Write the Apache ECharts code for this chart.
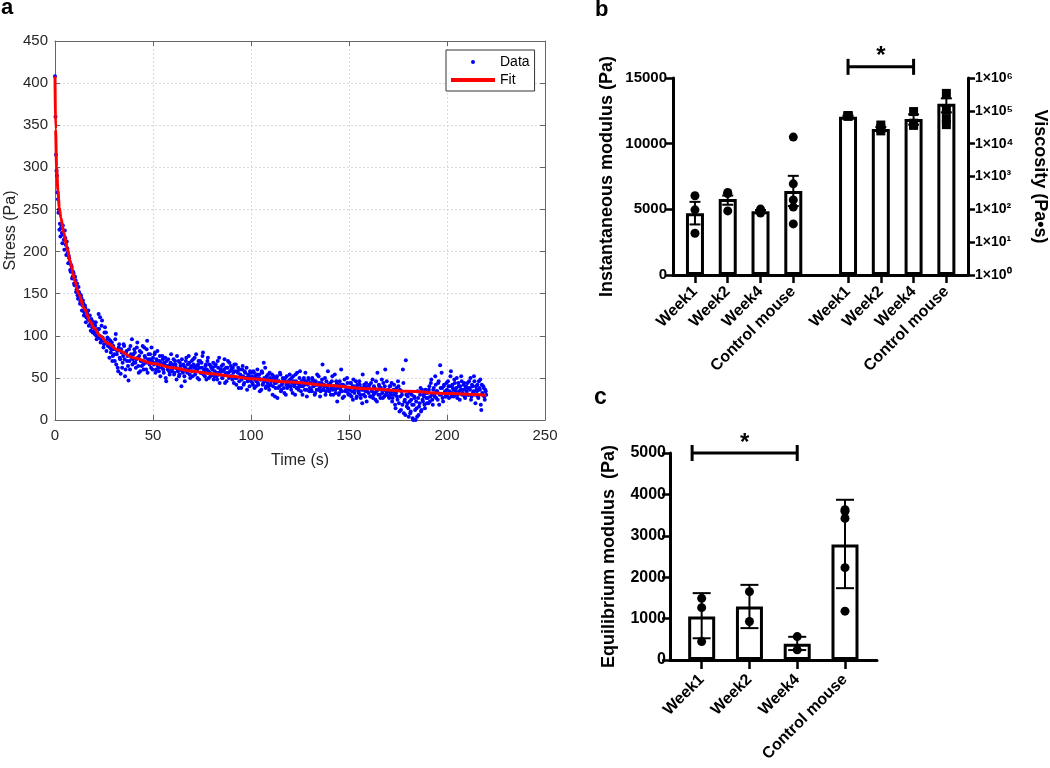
<!DOCTYPE html>
<html>
<head>
<meta charset="utf-8">
<script src="https://cdn.jsdelivr.net/npm/echarts@6/dist/echarts.min.js"></script>
<style>
  html, body { margin: 0; padding: 0; background: #fff; }
  #main { width: 1050px; height: 768px; }
</style>
</head>
<body>
<div id="main"></div>
<script>
// ---- panel a : stress relaxation ----
var sampleStep = 0.5; // s between samples
// samples at t = 0, 0.5, 1, ...
var stressData = [
  408, 315, 290, 262, 250, 233, 228, 222, 231, 214, 225, 208, 212, 199, 195, 188, 176, 182, 170, 174,
  160, 166, 155, 148, 158, 150, 141, 145, 136, 138, 128, 133, 122, 126, 130, 118, 114, 120, 110, 116,
  106, 112, 100, 104, 98, 108, 122, 96, 118, 94, 90, 110, 104, 92, 88, 96, 86, 80, 92, 76,
  84, 70, 102, 78, 62, 86, 74, 55, 80, 68, 90, 72, 60, 82, 76, 47, 70, 88, 74, 66,
  78, 84, 68, 72, 92, 64, 76, 58, 80, 70, 66, 86, 74, 60, 94, 72, 68, 78, 62, 70,
  74, 66, 80, 60, 70, 64, 58, 76, 68, 62, 72, 56, 66, 50, 70, 60, 64, 54, 68, 58,
  62, 72, 56, 66, 48, 60, 70, 54, 64, 40, 58, 66, 52, 62, 74, 56, 60, 68, 50, 64,
  58, 72, 62, 54, 78, 60, 66, 48, 70, 56, 62, 80, 58, 52, 66, 60, 74, 50, 56, 64,
  54, 62, 48, 58, 66, 52, 70, 56, 44, 60, 64, 50, 58, 72, 54, 46, 62, 56, 68, 52,
  60, 48, 56, 66, 50, 42, 58, 62, 46, 54, 38, 60, 52, 44, 56, 50, 36, 54, 48, 58,
  46, 52, 42, 56, 48, 40, 54, 44, 50, 34, 48, 58, 42, 68, 46, 38, 52, 44, 40, 56,
  42, 48, 30, 52, 44, 38, 50, 26, 46, 40, 54, 36, 44, 48, 32, 50, 42, 38, 46, 40,
  48, 36, 44, 52, 40, 30, 46, 56, 38, 42, 58, 34, 44, 40, 50, 36, 46, 28, 42, 48,
  38, 44, 34, 48, 40, 30, 46, 36, 42, 52, 38, 34, 44, 66, 36, 40, 30, 46, 38, 42,
  34, 44, 38, 52, 30, 40, 36, 46, 22, 42, 32, 38, 60, 34, 42, 28, 40, 36, 50, 32,
  38, 30, 44, 34, 24, 40, 36, 46, 28, 38, 32, 42, 26, 36, 54, 30, 40, 34, 22, 38,
  32, 42, 28, 36, 48, 30, 38, 24, 34, 56, 30, 40, 26, 36, 32, 44, 28, 60, 34, 30,
  36, 26, 40, 30, 22, 34, 42, 18, 32, 28, 46, 20, 36, 12, 30, 60, 8, 24, 71, 16,
  28, 4, 22, 10, 30, 2, 18, 26, 0, 14, 34, 6, 20, 38, 12, 24, 30, 18, 36, 26,
  32, 20, 40, 28, 48, 24, 36, 30, 52, 26, 34, 44, 18, 65, 30, 38, 22, 42, 34, 28,
  36, 46, 26, 40, 58, 32, 38, 28, 44, 34, 50, 30, 40, 24, 36, 46, 32, 42, 28, 38,
  34, 44, 30, 38, 50, 28, 40, 34, 46, 20, 36, 42, 26, 38, 48, 12, 32, 40, 28, 36,
  30
];
// samples at t = 0.25, 0.75, 1.25, ...
var stressDataB = [
  360, 296, 270, 246, 226, 218, 232, 210, 220, 202, 216, 196, 204, 186, 192, 178, 184, 168, 176, 162,
  170, 152, 162, 144, 152, 138, 148, 130, 142, 124, 136, 116, 128, 120, 112, 124, 106, 118, 104, 112,
  102, 116, 96, 108, 126, 100, 92, 112, 98, 86, 104, 94, 82, 98, 90, 74, 94, 84, 70, 88,
  78, 96, 66, 82, 58, 90, 72, 84, 62, 76, 88, 52, 80, 70, 64, 84, 60, 78, 96, 72,
  68, 80, 62, 86, 74, 56, 82, 70, 64, 88, 60, 76, 68, 84, 56, 78, 66, 72, 86, 60,
  68, 78, 56, 72, 82, 62, 70, 52, 66, 76, 60, 68, 74, 46, 64, 72, 58, 66, 78, 60,
  66, 54, 70, 62, 76, 58, 52, 68, 60, 72, 56, 64, 46, 70, 58, 66, 76, 54, 62, 70,
  52, 66, 74, 58, 64, 50, 70, 62, 56, 68, 76, 54, 60, 64, 48, 70, 58, 66, 52, 62,
  60, 68, 52, 64, 56, 48, 62, 74, 54, 58, 50, 66, 60, 44, 62, 56, 70, 50, 58, 64,
  52, 62, 44, 58, 66, 50, 56, 38, 60, 52, 48, 64, 42, 58, 50, 62, 46, 52, 40, 56,
  50, 44, 58, 38, 52, 46, 60, 42, 54, 48, 36, 56, 44, 50, 62, 40, 48, 54, 36, 50,
  46, 54, 40, 48, 28, 44, 52, 38, 46, 56, 34, 42, 50, 38, 46, 30, 52, 40, 44, 54,
  40, 50, 32, 46, 42, 54, 38, 44, 36, 50, 40, 46, 30, 48, 42, 56, 36, 44, 50, 34,
  44, 36, 50, 40, 46, 32, 42, 54, 36, 44, 28, 40, 48, 36, 42, 50, 34, 40, 58, 36,
  42, 30, 46, 36, 40, 54, 32, 44, 38, 30, 46, 36, 42, 26, 40, 48, 34, 38, 44, 30,
  36, 44, 28, 40, 48, 32, 38, 26, 42, 34, 46, 30, 38, 20, 36, 42, 28, 44, 34, 40,
  38, 28, 44, 34, 26, 40, 32, 46, 22, 36, 42, 30, 38, 48, 26, 36, 40, 30, 46, 34,
  28, 40, 32, 44, 26, 36, 30, 14, 38, 24, 40, 10, 28, 34, 18, 44, 22, 6, 30, 20,
  14, 32, 8, 24, 18, 0, 28, 12, 22, 4, 26, 16, 30, 10, 36, 22, 28, 14, 32, 20,
  26, 36, 22, 44, 30, 18, 38, 28, 42, 34, 24, 46, 30, 38, 56, 26, 40, 32, 28, 44,
  30, 40, 34, 52, 28, 42, 36, 48, 30, 38, 26, 44, 34, 40, 52, 30, 36, 44, 26, 40,
  38, 30, 46, 36, 24, 42, 32, 52, 30, 40, 34, 28, 46, 36, 18, 42, 30, 38, 24, 34
];
var fitTime = [0, 0.3, 0.8, 1.5, 2.2, 3, 4.5, 6, 8, 10, 12, 15, 18, 20, 23, 27, 32, 40, 50, 60, 70, 80, 90, 100, 120, 140, 160, 180, 200, 220];
var fitStress = [408, 345, 300, 272, 252, 240, 222, 206, 186, 166, 150, 132, 117, 109, 100, 91, 83, 74, 67, 62, 58, 55, 52, 49, 45, 41, 37, 34, 31.5, 29.5];

// ---- panel b : instantaneous modulus (left) and viscosity (right, log) ----
var groupNames = ['Week1', 'Week2', 'Week4', 'Control mouse'];
var bPosLeft = [0, 1, 2, 3];
var bPosRight = [4.67, 5.67, 6.67, 7.67];
var instMean = [4700, 5780, 4850, 6400];
var instErr = [[3850, 5570], [5350, 6050], [4750, 4950], [5250, 7550]];
var instPoints = [[6030, 4960, 3180], [6280, 6200, 4880], [5020, 4800, 4720], [10500, 6940, 5720, 5170, 3890]];
var viscMean = [6.6e4, 2.8e4, 5.6e4, 1.65e5];
var viscErr = [[6.4e4, 7.2e4], [2.5e4, 3.2e4], [3.8e4, 7.8e4], [9e4, 2.4e5]];
var viscPoints = [[7.2e4, 7.0e4, 6.8e4], [3.7e4, 2.9e4, 2.45e4], [9.5e4, 4.2e4, 3.6e4], [3.4e5, 1.07e5, 5.8e4, 3.8e4]];
var sigB = [4.67, 6.67, 15850];

// ---- panel c : equilibrium modulus ----
var cPos = [0, 1, 2, 3];
var eqMean = [1050, 1290, 390, 2790];
var eqErr = [[525, 1615], [770, 1815], [240, 560], [1735, 3870]];
var eqPoints = [[1490, 1265, 445], [1650, 930], [565, 245], [3630, 3590, 3420, 2230, 1180]];
var sigC = [-0.2, 2, 5000];

var FONT = "'Liberation Sans', Arial, Helvetica, sans-serif";
var supDigits = ['\u2070', '\u00b9', '\u00b2', '\u00b3', '\u2074', '\u2075', '\u2076'];

function labelAt(positions, labels) {
  return function (v) {
    for (var i = 0; i < positions.length; i++) {
      if (Math.abs(positions[i] - v) < 0.01) return labels[i];
    }
    return '';
  };
}
function plain(v) { return String(v); }
function pointsOf(positions, groups) {
  var out = [];
  groups.forEach(function (g, i) {
    g.forEach(function (v) { out.push([positions[i], v]); });
  });
  return out;
}
function errorData(positions, errs) {
  return errs.map(function (e, i) { return [positions[i], e[0], e[1]]; });
}
function errorBar(capHalf) {
  return function (params, api) {
    var x = api.value(0);
    var lo = api.coord([x, api.value(1)]);
    var hi = api.coord([x, api.value(2)]);
    var st = { stroke: '#000', lineWidth: 2 };
    return {
      type: 'group',
      children: [
        { type: 'line', shape: { x1: lo[0], y1: lo[1], x2: hi[0], y2: hi[1] }, style: st },
        { type: 'line', shape: { x1: hi[0] - capHalf, y1: hi[1], x2: hi[0] + capHalf, y2: hi[1] }, style: st },
        { type: 'line', shape: { x1: lo[0] - capHalf, y1: lo[1], x2: lo[0] + capHalf, y2: lo[1] }, style: st }
      ]
    };
  };
}
function bracket(params, api) {
  var a = api.coord([api.value(0), api.value(2)]);
  var b = api.coord([api.value(1), api.value(2)]);
  var st = { stroke: '#000', lineWidth: 3 };
  return {
    type: 'group',
    children: [
      { type: 'line', shape: { x1: a[0], y1: a[1], x2: b[0], y2: b[1] }, style: st },
      { type: 'line', shape: { x1: a[0], y1: a[1] - 8, x2: a[0], y2: a[1] + 8 }, style: st },
      { type: 'line', shape: { x1: b[0], y1: b[1] - 8, x2: b[0], y2: b[1] + 8 }, style: st },
      { type: 'text', x: (a[0] + b[0]) / 2, y: a[1] - 10,
        style: { text: '*', fill: '#000', fontSize: 24, fontWeight: 'bold', fontFamily: FONT, align: 'center', verticalAlign: 'middle' } }
    ]
  };
}

var stressPts = stressData.map(function (v, i) { return [i * sampleStep, v]; })
  .concat(stressDataB.map(function (v, i) { return [(i + 0.5) * sampleStep, v]; }));
var fitPts = fitTime.map(function (t, i) { return [t, fitStress[i]]; });
var bPositions = bPosLeft.concat(bPosRight);
var bLabels = groupNames.concat(groupNames);

var grayAxis = '#666';
var txtA = '#262626';
var blackLine = { color: '#000', width: 3 };

var myChart = echarts.init(document.getElementById('main'));
var option = {
  animation: false,
  backgroundColor: '#fff',
  title: [
    { text: 'a', left: 1, top: -3, padding: 0, textStyle: { fontSize: 22, fontWeight: 'bold', fontFamily: FONT, color: '#000' } },
    { text: 'b', left: 595, top: -1, padding: 0, textStyle: { fontSize: 22, fontWeight: 'bold', fontFamily: FONT, color: '#000' } },
    { text: 'c', left: 594, top: 386, padding: 0, textStyle: { fontSize: 23, fontWeight: 'bold', fontFamily: FONT, color: '#000' } }
  ],
  legend: {
    data: [{ name: 'Data', icon: 'circle' }, { name: 'Fit', icon: 'rect' }],
    orient: 'vertical',
    left: 446, top: 50,
    itemWidth: 44, itemHeight: 4, itemGap: 4,
    padding: [5, 5, 4, 5],
    borderColor: '#333', borderWidth: 1, backgroundColor: '#fff',
    selectedMode: false,
    textStyle: { fontSize: 14, color: '#000', fontFamily: FONT }
  },
  grid: [
    { left: 55, top: 41, width: 490, height: 379 },
    { left: 673, top: 78, width: 296, height: 197 },
    { left: 670, top: 453, width: 207, height: 207 }
  ],
  xAxis: [
    {
      gridIndex: 0, type: 'value', min: 0, max: 250, interval: 50, position: 'bottom',
      name: 'Time (s)', nameLocation: 'middle', nameGap: 33,
      nameTextStyle: { fontSize: 16, color: txtA, fontFamily: FONT },
      axisLine: { onZero: false, lineStyle: { color: grayAxis, width: 1 } },
      axisTick: { inside: true, length: 5, lineStyle: { color: grayAxis } },
      axisLabel: { fontSize: 15, color: txtA, fontFamily: FONT, margin: 8 },
      splitLine: { show: true, lineStyle: { color: '#dadada', type: [2, 2] } }
    },
    {
      gridIndex: 0, type: 'value', min: 0, max: 250, interval: 50, position: 'top',
      axisLine: { onZero: false, lineStyle: { color: grayAxis, width: 1 } },
      axisTick: { inside: true, length: 5, lineStyle: { color: grayAxis } },
      axisLabel: { show: false }, splitLine: { show: false }
    },
    {
      gridIndex: 1, type: 'value', min: -0.67, max: 8.33,
      axisLine: { onZero: false, lineStyle: blackLine },
      axisTick: { customValues: bPositions, length: 8, lineStyle: { color: '#000', width: 2.5 } },
      axisLabel: { customValues: bPositions, formatter: labelAt(bPositions, bLabels), rotate: 45, margin: 14,
        fontSize: 16, fontWeight: 'bold', color: '#000', fontFamily: FONT },
      splitLine: { show: false }
    },
    {
      gridIndex: 2, type: 'value', min: -0.663, max: 3.67,
      axisLine: { onZero: false, lineStyle: blackLine },
      axisTick: { customValues: cPos, length: 9, lineStyle: { color: '#000', width: 2.5 } },
      axisLabel: { customValues: cPos, formatter: labelAt(cPos, groupNames), rotate: 45, margin: 17,
        fontSize: 16, fontWeight: 'bold', color: '#000', fontFamily: FONT },
      splitLine: { show: false }
    }
  ],
  yAxis: [
    {
      gridIndex: 0, type: 'value', min: 0, max: 450, interval: 50, position: 'left',
      name: 'Stress (Pa)', nameLocation: 'middle', nameGap: 36,
      nameTextStyle: { fontSize: 16, color: txtA, fontFamily: FONT },
      axisLine: { show: true, onZero: false, lineStyle: { color: grayAxis, width: 1 } },
      axisTick: { show: true, inside: true, length: 5, lineStyle: { color: grayAxis } },
      axisLabel: { fontSize: 15, color: txtA, fontFamily: FONT, margin: 7 },
      splitLine: { show: true, lineStyle: { color: '#dadada', type: [2, 2] } }
    },
    {
      gridIndex: 0, type: 'value', min: 0, max: 450, interval: 50, position: 'right',
      axisLine: { show: true, onZero: false, lineStyle: { color: grayAxis, width: 1 } },
      axisTick: { show: true, inside: true, length: 5, lineStyle: { color: grayAxis } },
      axisLabel: { show: false }, splitLine: { show: false }
    },
    {
      gridIndex: 1, type: 'value', min: 0, max: 15000, interval: 5000, position: 'left',
      name: 'Instantaneous modulus (Pa)', nameLocation: 'middle', nameGap: 57,
      nameTextStyle: { fontSize: 18, fontWeight: 'bold', color: '#000', fontFamily: FONT },
      axisLine: { show: true, onZero: false, lineStyle: blackLine },
      axisTick: { show: true, length: 7, lineStyle: { color: '#000', width: 2.5 } },
      axisLabel: { fontSize: 15, fontWeight: 'bold', color: '#000', fontFamily: FONT, margin: 6, formatter: plain },
      splitLine: { show: false }
    },
    {
      gridIndex: 1, type: 'log', logBase: 10, min: 1, max: 1e6, position: 'right',
      name: 'Viscosity (Pa\u2022s)', nameLocation: 'middle', nameGap: 63, nameRotate: -90,
      nameTextStyle: { fontSize: 18, fontWeight: 'bold', color: '#000', fontFamily: FONT },
      axisLine: { show: true, onZero: false, lineStyle: blackLine },
      axisTick: { show: true, length: 7, lineStyle: { color: '#000', width: 2.5 } },
      axisLabel: {
        fontSize: 14, fontWeight: 'bold', color: '#000', fontFamily: FONT, margin: 7,
        formatter: function (v) {
          var e = Math.round(Math.log(v) / Math.LN10);
          return '1\u00d710' + supDigits[e];
        }
      },
      splitLine: { show: false }
    },
    {
      gridIndex: 2, type: 'value', min: 0, max: 5000, interval: 1000, position: 'left',
      name: 'Equilibrium modulus  (Pa)', nameLocation: 'middle', nameGap: 52,
      nameTextStyle: { fontSize: 18, fontWeight: 'bold', color: '#000', fontFamily: FONT },
      axisLine: { show: true, onZero: false, lineStyle: blackLine },
      axisTick: { show: true, length: 8, lineStyle: { color: '#000', width: 2.5 } },
      axisLabel: { fontSize: 16, fontWeight: 'bold', color: '#000', fontFamily: FONT, margin: 4, formatter: plain },
      splitLine: { show: false }
    }
  ],
  series: [
    // a
    {
      name: 'Data', type: 'scatter', xAxisIndex: 0, yAxisIndex: 0,
      data: stressPts, symbolSize: 4, itemStyle: { color: '#0000ff', opacity: 1 }
    },
    {
      name: 'Fit', type: 'line', xAxisIndex: 0, yAxisIndex: 0,
      data: fitPts, showSymbol: false, symbol: 'none', smooth: 0.3, smoothMonotone: 'x',
      lineStyle: { color: '#ff0000', width: 3 }, itemStyle: { color: '#ff0000' }
    },
    // b
    {
      type: 'bar', xAxisIndex: 2, yAxisIndex: 2, barWidth: 18, barGap: '-100%',
      data: bPosLeft.map(function (p, i) { return [p, instMean[i]]; }),
      itemStyle: { color: '#fff', borderColor: '#000', borderWidth: 3 }
    },
    {
      type: 'bar', xAxisIndex: 2, yAxisIndex: 3, barWidth: 18, barGap: '-100%',
      data: bPosRight.map(function (p, i) { return [p, viscMean[i]]; }),
      itemStyle: { color: '#fff', borderColor: '#000', borderWidth: 3 }
    },
    {
      type: 'custom', xAxisIndex: 2, yAxisIndex: 2, renderItem: errorBar(5.5),
      data: errorData(bPosLeft, instErr), encode: { x: 0, y: [1, 2] }, z: 3
    },
    {
      type: 'custom', xAxisIndex: 2, yAxisIndex: 3, renderItem: errorBar(5.5),
      data: errorData(bPosRight, viscErr), encode: { x: 0, y: [1, 2] }, z: 3
    },
    {
      type: 'scatter', xAxisIndex: 2, yAxisIndex: 2, symbol: 'circle', symbolSize: 9,
      data: pointsOf(bPosLeft, instPoints), itemStyle: { color: '#000', opacity: 1 }, z: 4
    },
    {
      type: 'scatter', xAxisIndex: 2, yAxisIndex: 3, symbol: 'rect', symbolSize: 9,
      data: pointsOf(bPosRight, viscPoints), itemStyle: { color: '#000', opacity: 1 }, z: 4
    },
    {
      type: 'custom', xAxisIndex: 2, yAxisIndex: 2, renderItem: bracket, clip: false,
      data: [sigB], encode: { x: [0, 1], y: 2 }, z: 5
    },
    // c
    {
      type: 'bar', xAxisIndex: 3, yAxisIndex: 4, barWidth: 27,
      data: cPos.map(function (p, i) { return [p, eqMean[i]]; }),
      itemStyle: { color: '#fff', borderColor: '#000', borderWidth: 3 }
    },
    {
      type: 'custom', xAxisIndex: 3, yAxisIndex: 4, renderItem: errorBar(9),
      data: errorData(cPos, eqErr), encode: { x: 0, y: [1, 2] }, z: 3
    },
    {
      type: 'scatter', xAxisIndex: 3, yAxisIndex: 4, symbol: 'circle', symbolSize: 9,
      data: pointsOf(cPos, eqPoints), itemStyle: { color: '#000', opacity: 1 }, z: 4
    },
    {
      type: 'custom', xAxisIndex: 3, yAxisIndex: 4, renderItem: bracket, clip: false,
      data: [sigC], encode: { x: [0, 1], y: 2 }, z: 5
    }
  ]
};
myChart.setOption(option);
</script>
</body>
</html>
